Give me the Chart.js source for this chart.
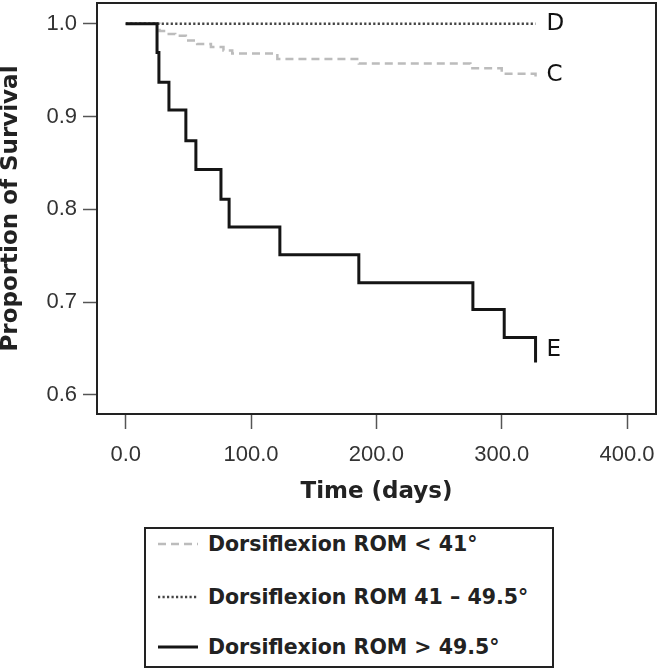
<!DOCTYPE html>
<html>
<head>
<meta charset="utf-8">
<script src="https://cdn.jsdelivr.net/npm/chart.js@4.4.0/dist/chart.umd.min.js"></script>
<style>
    body { margin: 0; background: #fff; width: 660px; height: 671px; overflow: hidden; position: relative; }
    #grafico { position: absolute; left: 0; top: 0; }
    #legenda {
        position: absolute; left: 144px; top: 527px; width: 406px; height: 137px;
        border: 2px solid #222; font-family: "DejaVu Sans"; font-weight: bold; font-size: 20.5px; color: #222;
    }
    .item { position: absolute; left: 12px; height: 30px; display: flex; align-items: center; white-space: nowrap; }
    .item svg { margin-right: 10px; }
</style>
</head>
<body>
<canvas id="grafico" width="660" height="520"></canvas>
<div id="legenda"></div>
<script>
// Curvas de sobrevida (Kaplan-Meier) - tempo em dias
const tempoC = [0, 27, 33, 39.5, 48, 57, 68, 78, 85, 121, 186, 275, 300, 327];
const sobrevidaC = [1, 0.992, 0.989, 0.987, 0.982, 0.978, 0.975, 0.971, 0.968, 0.962, 0.957, 0.952, 0.946, 0.943];

const tempoD = [0, 327];
const sobrevidaD = [1, 1];

const tempoE = [0, 25, 26.5, 34.5, 48, 56, 76, 82.5, 123, 186, 277, 302, 327];
const sobrevidaE = [1, 0.969, 0.937, 0.907, 0.874, 0.843, 0.811, 0.781, 0.751, 0.721, 0.692, 0.662, 0.635];

const ticksX = [0, 100, 200, 300, 400];
const ticksY = [0.6, 0.7, 0.8, 0.9, 1.0];

const pontos = (t, s) => t.map((x, i) => ({ x: x, y: s[i] }));

// sem folga automática para os rótulos das pontas
const semFolga = s => {
    s.paddingLeft = 0;
    s.paddingRight = 0;
    s.paddingTop = 0;
    s.paddingBottom = 0;
};

// moldura da área do gráfico
const moldura = {
    id: 'moldura',
    afterDraw(chart) {
        const { ctx, chartArea: a } = chart;
        ctx.save();
        ctx.strokeStyle = '#222';
        ctx.lineWidth = 2;
        ctx.strokeRect(a.left, a.top, a.right - a.left, a.bottom - a.top);
        ctx.restore();
    }
};

// letras no fim de cada curva
const rotulos = {
    id: 'rotulos',
    afterDatasetsDraw(chart) {
        const ctx = chart.ctx;
        ctx.save();
        ctx.font = '23px "DejaVu Sans"';
        ctx.fillStyle = '#111';
        ctx.textAlign = 'left';
        ctx.textBaseline = 'middle';
        chart.data.datasets.forEach((ds, i) => {
            const pts = chart.getDatasetMeta(i).data;
            const ult = pts[pts.length - 1];
            const pen = pts[pts.length - 2];
            ctx.fillText(ds.rotulo, ult.x + 11, (ult.y + pen.y) / 2);
        });
        ctx.restore();
    }
};

const ctxGrafico = document.getElementById('grafico').getContext('2d');
const grafico = new Chart(ctxGrafico, {
    type: 'line',
    data: {
        datasets: [{
            label: 'Dorsiflexion ROM < 41°',
            rotulo: 'C',
            data: pontos(tempoC, sobrevidaC),
            borderColor: '#bcbcbc',
            borderDash: [8, 5],
            borderWidth: 2.5,
            order: 2
        }, {
            label: 'Dorsiflexion ROM 41 – 49.5°',
            rotulo: 'D',
            data: pontos(tempoD, sobrevidaD),
            borderColor: '#444',
            borderDash: [2.2, 2.3],
            borderWidth: 2.5,
            order: 1
        }, {
            label: 'Dorsiflexion ROM > 49.5°',
            rotulo: 'E',
            data: pontos(tempoE, sobrevidaE),
            borderColor: '#151515',
            borderWidth: 3,
            order: 0
        }]
    },
    options: {
        responsive: false,
        animation: false,
        elements: {
            line: { stepped: 'before', fill: false, borderCapStyle: 'butt' },
            point: { radius: 0, hoverRadius: 0 }
        },
        layout: { padding: { top: 3, right: 4, left: 0, bottom: 0 } },
        plugins: {
            legend: { display: false },
            tooltip: { enabled: false }
        },
        scales: {
            x: {
                type: 'linear',
                min: -22.9,
                max: 423.1,
                afterBuildTicks: s => { s.ticks = ticksX.map(v => ({ value: v })); },
                afterFit: s => { s.height = 106; semFolga(s); },
                ticks: {
                    callback: v => Number(v).toFixed(1),
                    font: { family: 'Liberation Sans', size: 22 },
                    color: '#333',
                    padding: 13,
                    maxRotation: 0,
                    autoSkip: false
                },
                grid: { drawOnChartArea: false, tickLength: 15, tickColor: '#555', tickWidth: 1.5 },
                border: { display: false },
                title: {
                    display: true,
                    text: 'Time (days)',
                    font: { family: 'DejaVu Sans', weight: 'bold', size: 23 },
                    color: '#222',
                    padding: { top: 0, bottom: 14 }
                }
            },
            y: {
                min: 0.5795,
                max: 1.0223,
                afterBuildTicks: s => { s.ticks = ticksY.map(v => ({ value: v })); },
                afterFit: s => { s.width = 97; semFolga(s); },
                ticks: {
                    callback: v => Number(v).toFixed(1),
                    font: { family: 'Liberation Sans', size: 22 },
                    color: '#333',
                    padding: 6
                },
                grid: { drawOnChartArea: false, tickLength: 14, tickColor: '#555', tickWidth: 1.5 },
                border: { display: false },
                title: {
                    display: true,
                    text: 'Proportion of Survival',
                    font: { family: 'DejaVu Sans', weight: 'bold', size: 23, lineHeight: 1 },
                    color: '#222',
                    padding: { top: 0, bottom: 0 }
                }
            }
        }
    },
    plugins: [moldura, rotulos]
});

// Legenda montada a partir dos datasets
const legenda = document.getElementById('legenda');
const toposLegenda = [0, 53, 103];
grafico.data.datasets.forEach((ds, i) => {
    const div = document.createElement('div');
    div.classList.add('item');
    div.style.top = toposLegenda[i] + 'px';
    const traco = (ds.borderDash || []).join(' ');
    div.innerHTML = `<svg width="40" height="6"><line x1="0" y1="3" x2="40" y2="3" stroke="${ds.borderColor}" stroke-width="${ds.borderWidth}" stroke-dasharray="${traco}"/></svg><span>${ds.label}</span>`;
    legenda.appendChild(div);
});
</script>
</body>
</html>
